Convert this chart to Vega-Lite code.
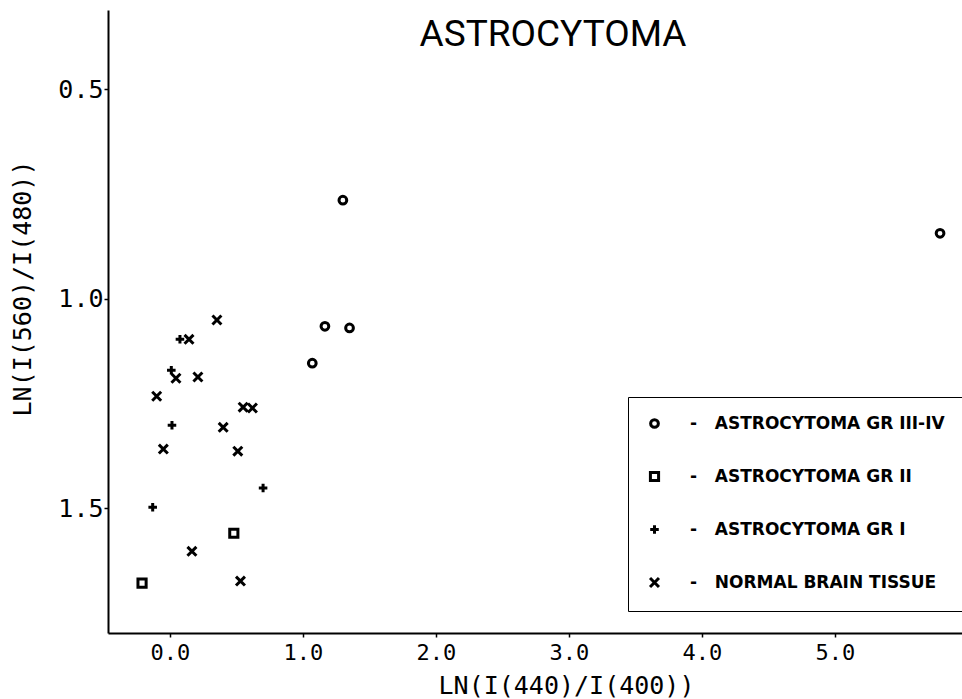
{
  "$schema": "https://vega.github.io/schema/vega-lite/v6.json",
  "width": 854,
  "height": 623,
  "autosize": "none",
  "padding": {"left": 108, "top": 10, "right": 0, "bottom": 66},
  "background": "white",
  "title": {
    "text": "ASTROCYTOMA",
    "font": "Roboto",
    "fontSize": 37,
    "fontWeight": "normal",
    "color": "black",
    "anchor": "middle",
    "baseline": "alphabetic",
    "dy": 77,
    "dx": 18
  },
  "data": {
    "values": [
      {"x": 1.30, "y": 0.765, "group": "ASTROCYTOMA GR III-IV"},
      {"x": 5.79, "y": 0.844, "group": "ASTROCYTOMA GR III-IV"},
      {"x": 1.165, "y": 1.066, "group": "ASTROCYTOMA GR III-IV"},
      {"x": 1.35, "y": 1.070, "group": "ASTROCYTOMA GR III-IV"},
      {"x": 1.07, "y": 1.154, "group": "ASTROCYTOMA GR III-IV"},
      {"x": -0.21, "y": 1.679, "group": "ASTROCYTOMA GR II"},
      {"x": 0.48, "y": 1.560, "group": "ASTROCYTOMA GR II"},
      {"x": 0.075, "y": 1.097, "group": "ASTROCYTOMA GR I"},
      {"x": 0.01, "y": 1.171, "group": "ASTROCYTOMA GR I"},
      {"x": 0.015, "y": 1.302, "group": "ASTROCYTOMA GR I"},
      {"x": 0.70, "y": 1.452, "group": "ASTROCYTOMA GR I"},
      {"x": -0.13, "y": 1.498, "group": "ASTROCYTOMA GR I"},
      {"x": 0.353, "y": 1.051, "group": "NORMAL BRAIN TISSUE"},
      {"x": 0.143, "y": 1.097, "group": "NORMAL BRAIN TISSUE"},
      {"x": 0.045, "y": 1.190, "group": "NORMAL BRAIN TISSUE"},
      {"x": 0.21, "y": 1.187, "group": "NORMAL BRAIN TISSUE"},
      {"x": -0.10, "y": 1.233, "group": "NORMAL BRAIN TISSUE"},
      {"x": 0.55, "y": 1.259, "group": "NORMAL BRAIN TISSUE"},
      {"x": 0.62, "y": 1.261, "group": "NORMAL BRAIN TISSUE"},
      {"x": 0.40, "y": 1.307, "group": "NORMAL BRAIN TISSUE"},
      {"x": -0.05, "y": 1.359, "group": "NORMAL BRAIN TISSUE"},
      {"x": 0.51, "y": 1.364, "group": "NORMAL BRAIN TISSUE"},
      {"x": 0.165, "y": 1.603, "group": "NORMAL BRAIN TISSUE"},
      {"x": 0.53, "y": 1.674, "group": "NORMAL BRAIN TISSUE"}
    ]
  },
  "mark": {"type": "point", "filled": false, "stroke": "black", "strokeWidth": 3, "opacity": 1},
  "encoding": {
    "x": {
      "field": "x",
      "type": "quantitative",
      "scale": {"domain": [-0.466, 5.955], "nice": false, "zero": false},
      "axis": {
        "title": "LN(I(440)/I(400))",
        "values": [0, 1, 2, 3, 4, 5],
        "format": ".1f",
        "grid": false,
        "domainColor": "black",
        "domainWidth": 2,
        "tickColor": "black",
        "tickSize": 4,
        "tickWidth": 1.5,
        "labelFont": "DejaVu Sans Mono",
        "labelFontSize": 22,
        "labelColor": "black",
        "labelPadding": 5,
        "titleFont": "DejaVu Sans Mono",
        "titleFontSize": 25,
        "titleFontWeight": "normal",
        "titleColor": "black",
        "titleX": 458,
        "titleY": 60,
        "titleBaseline": "alphabetic",
        "titleAnchor": "middle"
      }
    },
    "y": {
      "field": "y",
      "type": "quantitative",
      "scale": {"domain": [0.311, 1.798], "nice": false, "zero": false, "reverse": true},
      "axis": {
        "title": "LN(I(560)/I(480))",
        "values": [0.5, 1.0, 1.5],
        "format": ".1f",
        "grid": false,
        "domainColor": "black",
        "domainWidth": 2,
        "tickColor": "black",
        "tickSize": 4,
        "tickWidth": 1.5,
        "labelFont": "DejaVu Sans Mono",
        "labelFontSize": 25,
        "labelColor": "black",
        "labelPadding": 1,
        "titleFont": "DejaVu Sans Mono",
        "titleFontSize": 25,
        "titleFontWeight": "normal",
        "titleColor": "black",
        "titleX": -86,
        "titleY": 278,
        "titleBaseline": "middle",
        "titleAngle": -90,
        "titleAnchor": "middle"
      }
    },
    "shape": {
      "field": "group",
      "type": "nominal",
      "scale": {
        "domain": ["ASTROCYTOMA GR III-IV", "ASTROCYTOMA GR II", "ASTROCYTOMA GR I", "NORMAL BRAIN TISSUE"],
        "range": ["circle", "square", "M-1,0L1,0M0,-1L0,1", "M-1,-1L1,1M-1,1L1,-1"]
      },
      "legend": {
        "orient": "none",
        "legendX": 520,
        "legendY": 387,
        "direction": "vertical",
        "title": null,
        "strokeColor": "black",
        "padding": 18,
        "rowPadding": 32,
        "labelFont": "DejaVu Sans",
        "labelFontSize": 17,
        "labelFontWeight": "bold",
        "labelColor": "black",
        "labelOffset": 27,
        "labelLimit": 600,
        "labelExpr": "'-\u00a0\u00a0\u00a0' + datum.label",
        "symbolStrokeColor": "black",
        "symbolStrokeWidth": 3
      }
    },
    "size": {
      "field": "group",
      "type": "nominal",
      "scale": {
        "domain": ["ASTROCYTOMA GR III-IV", "ASTROCYTOMA GR II", "ASTROCYTOMA GR I", "NORMAL BRAIN TISSUE"],
        "range": [60, 80, 160, 135]
      }
    }
  },
  "config": {
    "view": {"stroke": null},
    "font": "DejaVu Sans Mono"
  }
}
